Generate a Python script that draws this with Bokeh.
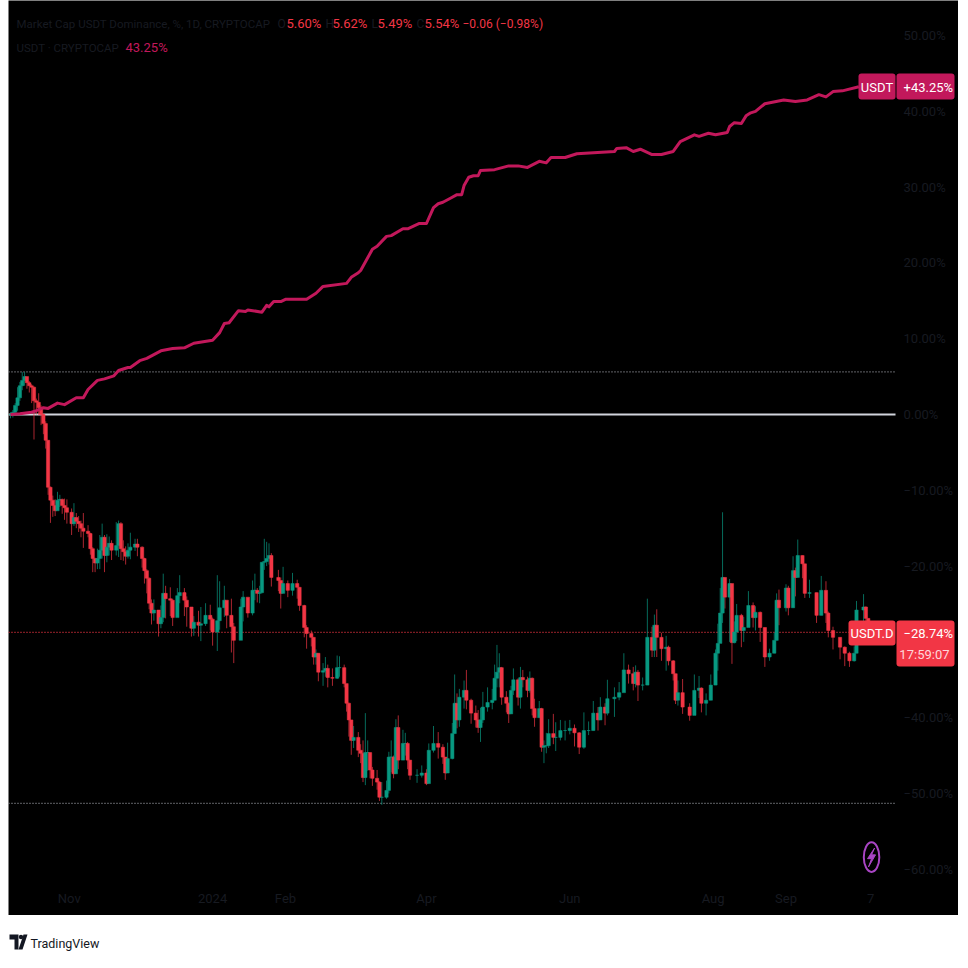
from bokeh.core.properties import value
from bokeh.embed import file_html
from bokeh.layouts import column
from bokeh.models import BoxAnnotation, ColumnDataSource, FixedTicker, Label, Range1d
from bokeh.plotting import figure
from bokeh.resources import INLINE

FONT = "Roboto"
UP = "#089981"
DOWN = "#f23645"
PINK = "#c2185b"
DIM = "#171a21"

# candles (days since 7 Oct 2023, percent change)
days = [
    0, 1, 2, 3, 4, 5, 6, 7, 8, 9, 10, 11, 12, 13, 14, 15, 16, 17, 18, 19,
    20, 21, 22, 23, 24, 26, 27, 28, 29, 30, 31, 33, 34, 35, 36, 37, 38, 39, 40, 41,
    42, 43, 45, 46, 47, 48, 49, 50, 51, 53, 54, 56, 57, 58, 59, 60, 61, 63, 64, 65,
    66, 68, 69, 71, 72, 74, 75, 77, 78, 80, 81, 83, 85, 86, 88, 89, 91, 92, 94, 95,
    98, 99, 101, 103, 104, 105, 106, 107, 108, 109, 110, 111, 114, 115, 116, 118, 120, 122, 123, 125,
    126, 128, 129, 130, 131, 133, 134, 135, 137, 139, 140, 142, 143, 144, 145, 146, 148, 149, 150, 151,
    152, 153, 154, 156, 157, 158, 160, 161, 162, 163, 164, 165, 167, 168, 169, 170, 173, 175, 177, 178,
    180, 182, 184, 185, 186, 188, 189, 190, 191, 193, 194, 196, 198, 199, 200, 201, 203, 205, 206, 207,
    208, 209, 211, 212, 213, 214, 216, 217, 218, 220, 221, 222, 223, 225, 226, 227, 228, 229, 231, 232,
    234, 236, 238, 240, 242, 244, 246, 248, 250, 251, 253, 254, 257, 259, 261, 263, 265, 266, 267, 269,
    271, 273, 274, 275, 277, 279, 280, 282, 283, 284, 286, 289, 291, 293, 294, 296, 298, 300, 301, 302,
    303, 304, 306, 307, 308, 309, 311, 312, 314, 316, 317, 319, 321, 323, 325, 326, 327, 330, 331, 333,
    334, 335, 337, 338, 340, 343, 345, 347, 348, 350, 353, 355, 357, 359, 360, 363, 364, 365,
]
closes = [
    0.0, 0.3, 1.2, 2.2, 3.8, 4.5, 5.0, 4.2, 3.8, 3.6, 1.8, 1.6, 0.9, 0.0, -1.2, -3.4, -9.6, -11.3, -12.0, -12.7,
    -11.3, -11.2, -12.0, -12.3, -12.9, -14.4, -13.6, -14.1, -14.4, -15.0, -15.4, -15.7, -17.7, -19.0, -19.6, -19.0, -17.9, -16.2, -18.6, -17.5,
    -17.0, -17.9, -17.3, -14.4, -17.7, -18.1, -18.7, -17.9, -17.5, -17.1, -17.5, -19.0, -20.6, -21.6, -24.9, -26.2, -25.8, -27.6, -26.8, -23.6,
    -24.3, -24.5, -26.8, -23.9, -23.5, -24.5, -25.4, -28.2, -27.4, -27.8, -27.6, -26.5, -27.0, -28.7, -27.2, -25.5, -24.5, -26.5, -28.0, -29.8,
    -25.4, -24.1, -26.2, -23.2, -23.2, -23.6, -23.5, -19.5, -19.4, -19.0, -18.6, -21.5, -21.9, -23.6, -22.3, -23.2, -22.3, -22.8, -25.2, -28.1,
    -28.9, -29.4, -32.0, -31.5, -34.0, -33.8, -33.5, -34.7, -34.8, -33.4, -33.4, -35.5, -38.1, -40.3, -43.0, -42.6, -44.3, -44.7, -47.9, -44.6,
    -44.6, -46.9, -48.0, -48.5, -50.5, -50.5, -49.6, -45.2, -45.2, -47.4, -41.3, -45.6, -43.4, -43.4, -45.6, -47.6, -47.6, -47.3, -48.7, -44.3,
    -43.4, -43.9, -45.2, -47.3, -45.4, -42.1, -38.1, -40.3, -37.3, -36.4, -37.7, -39.4, -40.3, -41.3, -40.3, -38.6, -38.0, -37.7, -34.8, -34.0,
    -33.4, -37.3, -38.1, -39.5, -36.4, -35.0, -37.3, -34.7, -35.0, -36.4, -34.8, -38.8, -40.0, -38.8, -43.9, -43.7, -43.7, -42.1, -42.6, -42.6,
    -41.7, -41.7, -41.4, -42.0, -43.9, -41.7, -41.7, -39.4, -40.3, -38.6, -39.4, -37.5, -37.3, -36.7, -33.7, -34.2, -35.5, -34.0, -35.7, -35.7,
    -29.4, -31.1, -27.8, -29.4, -30.9, -30.7, -32.5, -34.2, -37.7, -36.7, -38.6, -39.7, -36.4, -36.1, -38.1, -37.7, -35.7, -31.5, -30.2, -26.2,
    -21.5, -24.1, -22.3, -30.1, -28.7, -26.5, -28.5, -28.1, -25.2, -26.8, -26.1, -28.1, -32.0, -31.5, -29.8, -24.5, -25.5, -22.9, -25.5, -20.6,
    -21.5, -18.6, -19.7, -23.6, -23.5, -26.5, -23.2, -26.2, -28.5, -29.4, -30.7, -31.5, -32.5, -31.5, -25.8, -25.4, -26.9, -28.74,
]
highs = [
    0.3, 0.6, 1.5, 3.6, 4.3, 5.6, 5.6, 4.9, 4.4, 4.0, 3.7, 2.1, 2.8, 1.2, 0.1, -0.9, -3.4, -9.5, -10.7, -11.2,
    -10.2, -10.6, -11.1, -11.1, -11.2, -12.4, -11.7, -13.0, -13.4, -14.0, -13.0, -14.6, -15.6, -17.5, -18.9, -17.7, -15.9, -14.4, -15.9, -15.8,
    -16.1, -16.6, -14.2, -14.0, -14.2, -16.6, -17.4, -17.0, -15.6, -16.4, -16.4, -17.4, -18.9, -20.4, -21.5, -24.4, -24.4, -25.8, -25.2, -21.0,
    -22.6, -22.8, -24.3, -22.9, -21.2, -22.9, -24.0, -25.6, -26.6, -25.9, -25.4, -24.9, -25.1, -26.8, -21.2, -22.0, -22.6, -24.7, -24.3, -27.5,
    -24.3, -23.3, -24.5, -21.9, -21.0, -22.9, -22.6, -19.5, -16.4, -16.8, -17.0, -18.3, -20.5, -21.5, -20.1, -21.9, -20.9, -21.8, -22.8, -25.1,
    -27.8, -28.5, -29.4, -31.0, -31.5, -32.8, -32.0, -33.0, -33.5, -31.8, -31.9, -33.0, -35.6, -38.0, -40.3, -41.1, -41.9, -43.5, -43.0, -39.4,
    -43.0, -44.6, -46.5, -46.9, -48.4, -48.5, -48.3, -44.5, -43.0, -45.0, -40.2, -39.7, -41.6, -42.0, -43.2, -45.6, -46.8, -46.3, -46.8, -43.4,
    -41.1, -41.9, -43.5, -45.2, -43.3, -40.7, -34.3, -36.8, -36.2, -35.1, -33.7, -37.5, -38.4, -39.0, -38.7, -36.6, -36.0, -36.2, -33.0, -30.4,
    -31.5, -33.3, -36.5, -38.0, -35.8, -33.5, -34.8, -33.3, -33.7, -34.6, -33.9, -34.7, -37.5, -37.8, -38.7, -43.0, -42.0, -40.2, -39.5, -40.6,
    -40.3, -40.4, -40.3, -40.9, -41.9, -39.3, -40.5, -37.8, -38.6, -37.3, -38.1, -35.0, -36.0, -35.3, -31.5, -33.0, -33.3, -33.1, -33.7, -34.7,
    -24.3, -28.0, -26.4, -25.7, -28.8, -29.2, -30.5, -32.4, -34.2, -35.1, -34.9, -38.1, -34.3, -34.5, -36.0, -36.8, -34.3, -31.0, -27.6, -22.9,
    -12.9, -21.5, -21.7, -22.6, -27.3, -25.0, -26.3, -26.7, -23.3, -24.8, -25.3, -26.0, -28.1, -30.9, -28.8, -23.6, -23.1, -22.4, -22.6, -18.7,
    -20.2, -16.5, -18.6, -19.7, -21.8, -23.5, -21.3, -22.0, -26.0, -28.0, -29.4, -30.6, -31.3, -30.6, -24.6, -23.7, -25.3, -26.9,
]
lows = [
    -0.5, -0.4, -0.1, 0.5, 1.8, 3.2, 3.8, 3.4, 2.9, 1.5, -3.3, 0.0, -0.1, -1.4, -2.6, -4.5, -10.6, -14.3, -13.5, -13.4,
    -12.4, -12.2, -13.1, -13.9, -14.4, -15.9, -14.7, -15.0, -15.5, -16.2, -17.6, -16.2, -18.5, -20.8, -20.8, -20.4, -20.4, -19.0, -20.8, -19.5,
    -18.6, -19.2, -18.6, -18.8, -19.2, -19.3, -19.8, -19.0, -19.1, -18.0, -18.7, -20.2, -22.3, -23.6, -25.7, -27.7, -27.2, -29.3, -28.2, -27.4,
    -26.9, -26.6, -27.9, -26.2, -24.9, -26.6, -28.0, -29.3, -29.2, -29.3, -29.9, -27.9, -28.5, -30.5, -31.2, -28.4, -26.7, -28.2, -31.4, -32.8,
    -29.1, -27.3, -26.8, -26.5, -24.5, -24.8, -24.9, -23.6, -20.5, -20.0, -19.8, -22.7, -23.3, -25.6, -23.6, -24.1, -23.9, -24.3, -25.9, -29.4,
    -30.9, -30.6, -33.0, -33.0, -35.2, -35.8, -34.6, -36.0, -35.8, -34.9, -34.6, -36.0, -39.2, -42.5, -44.9, -44.0, -45.2, -46.0, -48.5, -48.9,
    -47.0, -48.0, -49.0, -49.5, -51.0, -51.5, -50.7, -50.0, -47.2, -48.0, -47.4, -46.8, -45.0, -45.0, -46.8, -48.2, -48.6, -47.9, -48.9, -48.6,
    -44.6, -45.4, -46.1, -48.2, -46.9, -45.5, -42.1, -41.4, -41.2, -38.8, -38.9, -40.8, -41.3, -42.0, -43.2, -40.7, -39.2, -38.9, -37.7, -36.0,
    -36.0, -38.3, -39.3, -40.7, -39.5, -37.0, -38.4, -38.8, -36.0, -37.3, -36.7, -39.7, -41.2, -40.0, -44.5, -46.0, -44.7, -44.0, -43.5, -44.4,
    -43.0, -43.0, -42.2, -43.8, -44.8, -44.1, -42.3, -41.7, -41.7, -40.3, -41.0, -39.7, -39.9, -37.7, -36.5, -35.5, -36.4, -36.0, -37.8, -36.4,
    -35.7, -32.0, -32.0, -32.0, -32.5, -33.8, -33.1, -35.1, -38.2, -38.4, -39.5, -40.4, -37.9, -37.4, -39.3, -39.7, -37.7, -35.7, -33.8, -30.0,
    -27.5, -25.6, -30.0, -32.9, -30.2, -29.9, -30.7, -30.0, -28.0, -28.1, -28.5, -30.0, -33.3, -32.5, -31.5, -29.8, -27.8, -26.0, -26.5, -25.5,
    -24.0, -21.5, -21.6, -24.2, -24.2, -27.5, -26.5, -27.5, -29.4, -31.0, -32.3, -33.2, -33.3, -32.6, -31.5, -28.0, -28.7, -29.2,
]

# USDT line
usdt_days = [
    0, 4, 9, 11, 14, 16, 20, 23, 28, 31, 33, 37, 40, 44, 46, 50, 51, 55, 58, 64,
    69, 74, 78, 86, 89, 91, 93, 97, 100, 101, 107, 109, 110, 112, 115, 117, 126, 130, 133, 143,
    145, 148, 149, 154, 156, 160, 162, 167, 169, 174, 177, 180, 182, 184, 187, 190, 192, 193, 195, 197,
    199, 200, 206, 212, 216, 220, 225, 228, 230, 236, 241, 257, 258, 262, 265, 268, 273, 277, 282, 285,
    291, 293, 297, 300, 305, 306, 308, 311, 313, 315, 317, 321, 329, 334, 339, 344, 347, 350, 354, 361,
]
usdt_values = [
    0.0, 0.1, 0.3, 0.5, 0.9, 0.8, 1.5, 1.3, 2.2, 2.2, 3.3, 4.5, 4.7, 5.1, 5.8, 6.2, 6.2, 7.1, 7.4, 8.4,
    8.7, 8.8, 9.4, 9.8, 10.8, 12.0, 12.1, 13.7, 13.6, 13.8, 13.5, 14.4, 14.2, 14.9, 14.9, 15.2, 15.2, 16.0, 16.9, 17.3,
    18.1, 18.7, 19.0, 21.8, 22.2, 23.5, 23.6, 24.5, 24.5, 25.2, 25.2, 27.3, 27.8, 28.0, 28.5, 29.0, 29.0, 30.2, 31.3, 31.5,
    31.5, 32.2, 32.3, 32.8, 32.8, 32.6, 33.4, 33.2, 33.9, 33.9, 34.4, 34.7, 35.1, 35.2, 34.7, 35.0, 34.3, 34.3, 34.7, 36.0,
    36.9, 36.7, 37.1, 36.9, 37.2, 38.0, 38.5, 38.4, 39.4, 39.8, 40.0, 41.0, 41.5, 41.3, 41.5, 42.2, 41.9, 42.6, 42.7, 43.25,
]

y_ticks = [50, 40, 30, 20, 10, 0, -10, -20, -30, -40, -50, -60]
y_labels = ["50.00%", "40.00%", "30.00%", "20.00%", "10.00%", "0.00%", "\u221210.00%", "\u221220.00%",
            "\u221230.00%", "\u221240.00%", "\u221250.00%", "\u221260.00%"]
x_ticks = [25, 86, 117, 177, 238, 299, 330, 366]
x_labels = ["Nov", "2024", "Feb", "Apr", "Jun", "Aug", "Sep", "7"]
range_high = 5.62
range_low = -51.3
last_price = -28.74

opens = [0.0] + closes[:-1]
colors = [UP if c >= o else DOWN for o, c in zip(opens, closes)]
source = ColumnDataSource(data=dict(day=days, open=opens, close=closes, high=highs, low=lows, color=colors))

# the frame runs under both scales so the badges are not clipped
DAY_LEFT = -0.85
DAY_SCALE_EDGE = 376.6
p = figure(width=950, height=915, output_backend="svg", toolbar_location=None,
           x_range=Range1d(DAY_LEFT, 403.4), y_range=Range1d(-66.1, 54.62),
           y_axis_location="right", background_fill_color="black", border_fill_color="black",
           min_border_left=0, min_border_top=0, min_border_right=0, min_border_bottom=0,
           outline_line_color=None, outline_line_alpha=0, margin=(0, 0, 0, 8))
p.grid.visible = False

for axis in [p.xaxis[0], p.yaxis[0]]:
    axis.axis_line_color = None
    axis.major_tick_line_color = None
    axis.minor_tick_line_color = None
    axis.major_tick_out = 0
    axis.major_label_text_color = DIM
    axis.major_label_text_font = FONT
    axis.major_label_text_font_size = "13px"
p.yaxis[0].fixed_location = DAY_SCALE_EDGE
p.yaxis[0].ticker = FixedTicker(ticks=y_ticks)
p.yaxis[0].major_label_overrides = dict(zip(y_ticks, y_labels))
p.yaxis[0].major_label_standoff = 8
p.xaxis[0].fixed_location = -62.1
p.xaxis[0].ticker = FixedTicker(ticks=x_ticks)
p.xaxis[0].major_label_overrides = dict(zip(x_ticks, x_labels))
p.xaxis[0].major_label_standoff = 6

edges = [DAY_LEFT, DAY_SCALE_EDGE]
p.line(edges, [range_high, range_high], line_color="#9a9da4", line_width=1.2, line_dash="1 2")
p.line(edges, [range_low, range_low], line_color="#9a9da4", line_width=1.2, line_dash="1 2")
p.line(edges, [last_price, last_price], line_color=DOWN, line_width=1.2, line_dash="1 2")
p.line(edges, [0, 0], line_color="#d1d4dc", line_width=2)

p.segment("day", "high", "day", "low", source=source, color="color", line_width=1, line_alpha=0.7)
p.vbar("day", width=1.4, top="open", bottom="close", source=source, fill_color="color", line_color="color",
       line_width=0.5)
p.line(usdt_days, usdt_values, line_color=PINK, line_width=3, line_join="round")

# lightning badge
p.ellipse(366.4, -58.4, width=6.6, height=3.9, fill_color=None, line_color="#a945c4", line_width=2)
p.patch([367.7, 364.7, 366.4, 365.1, 368.1, 366.4], [-57.2, -58.6, -58.6, -59.7, -58.1, -58.1],
        fill_color="#a945c4", line_color="#a945c4", line_width=1)


# screen units count from the frame's lower left corner
def label(text, x, y, color, size="13px", align="left"):
    p.add_layout(Label(x=x - 8, y=915 - y, x_units="screen", y_units="screen", text=text, text_color=color,
                       text_font=FONT, text_font_size=size, text_align=align, text_baseline="middle"))


def badge(left, right, top, bottom, color):
    p.add_layout(BoxAnnotation(left=left - 8, right=right - 8, top=915 - top, bottom=915 - bottom,
                               left_units="screen", right_units="screen", top_units="screen", bottom_units="screen",
                               fill_color=color, fill_alpha=1, line_color=None, border_radius=3))


# legend rows
label("Market Cap USDT Dominance, %, 1D, CRYPTOCAP", 16, 23, DIM, size="11.5px")
for letter, x in [("O", 277), ("H", 325), ("L", 371), ("C", 416)]:
    label(letter, x, 23, DIM, size="12px")
for text, x in [("5.60%", 286), ("5.62%", 332), ("5.49%", 377), ("5.54%", 424)]:
    label(text, x, 23, DOWN)
label("\u22120.06 (\u22120.98%)", 462, 23, DOWN, size="12px")
label("USDT \u00b7 CRYPTOCAP", 16, 47, DIM, size="11.5px")
label("43.25%", 125, 47, PINK)

# price badges on the scale
badge(858, 895, 73, 99, PINK)
badge(896, 954, 73, 99, PINK)
label("USDT", 876.5, 87, "white", align="center")
label("+43.25%", 903, 87, "white")
badge(848, 895, 620, 645, DOWN)
badge(896, 954, 620, 666, DOWN)
label("USDT.D", 871.5, 633, "white", align="center")
label("\u221228.74%", 903, 633, "white")
label("17:59:07", 949, 654, "#ffd6da", align="right")

# footer strip with the brand
footer = figure(width=950, height=45, output_backend="svg", toolbar_location=None,
                x_range=Range1d(0, 950), y_range=Range1d(45, 0),
                x_axis_location=None, y_axis_location=None,
                background_fill_color="white", border_fill_color="white",
                min_border_left=0, min_border_top=0, min_border_right=0, min_border_bottom=0,
                outline_line_color=None, margin=(0, 0, 0, 8))
footer.grid.visible = False
footer.patch([1, 10, 10, 6, 6, 1], [19, 19, 34, 34, 24, 24], fill_color="#131722", line_color=None)
footer.circle([12.5], [21.5], radius=2.2, fill_color="#131722", line_color=None)
footer.patch([15, 19, 14, 10], [19, 19, 34, 34], fill_color="#131722", line_color=None)
footer.text([22], [28], text=["TradingView"], text_color="#131722", text_font=value(FONT),
            text_font_size="12.5px", text_baseline="middle")

open("out.html", "w").write(file_html(column(p, footer, spacing=0), INLINE))
